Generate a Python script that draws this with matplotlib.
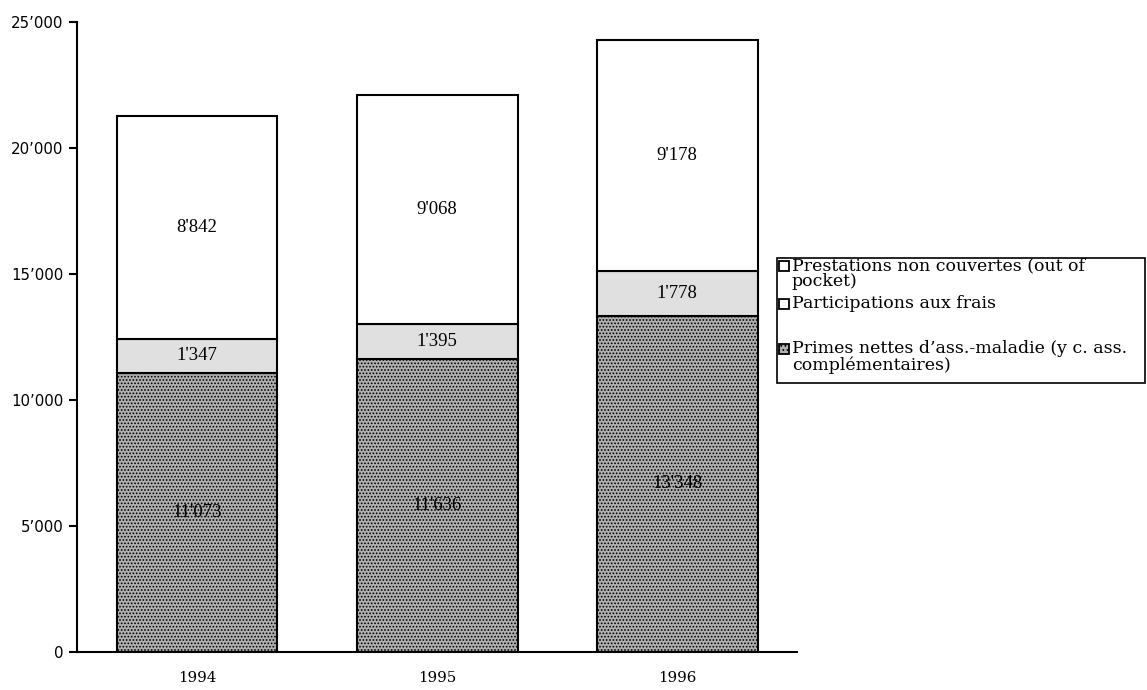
import matplotlib.pyplot as plt
import matplotlib.patches as mpatches
import numpy as np

years = ['1994', '1995', '1996']
primes = [11073, 11636, 13348]
participations = [1347, 1395, 1778]
prestations = [8842, 9068, 9178]
yticks = [0, 5000, 10000, 15000, 20000, 25000]
legend_labels = ['Prestations non couvertes (out of\npocket)',
                 'Participations aux frais',
                 "Primes nettes d\u2019ass.-maladie (y c. ass.\ncompl\u00e9mentaires)"]

def fmt(v):
    return "{:,}".format(v).replace(',', "'")

plt.rcParams['hatch.color'] = '#7a7a7a'
plt.rcParams['hatch.linewidth'] = 0.8
times = 'Liberation Serif'
pal = 'DejaVu Serif'
fig = plt.figure(figsize=(11.47, 6.9), dpi=100)
ax = fig.add_axes([0.0671, 0.0551, 0.628, 0.913])

x = np.arange(len(years))
w = 0.67
segs = [(primes, '#b0b0b0', '.....'), (participations, '#e0e0e0', None),
        (prestations, 'white', None)]
bottom = np.zeros(len(years))
for vals, col, hat in segs:
    ax.bar(x, vals, w, bottom=bottom, color=col, edgecolor='black',
           linewidth=1.5, hatch=hat)
    for xi, b, v in zip(x, bottom, vals):
        ax.text(xi, b + v / 2, fmt(v), ha='center', va='center',
                family=times, fontsize=13.5)
    bottom += np.array(vals)

ax.set_xlim(-0.5, 2.5)
ax.set_ylim(0, 25000)
ax.set_xticks(x)
ax.set_xticklabels(years, family=pal, fontsize=10.8)
ax.tick_params(axis='x', length=0, pad=14)
ax.set_yticks(yticks)
ax.set_yticklabels([fmt(t).replace("'", '\u2019') for t in yticks],
                   family='DejaVu Sans', fontsize=10.8)
ax.tick_params(axis='y', direction='out', length=6, width=1.5, pad=4)
for s in ['top', 'right']:
    ax.spines[s].set_visible(False)
for s in ['left', 'bottom']:
    ax.spines[s].set_linewidth(1.5)

# legend drawn by hand to keep the original's layout
W, H = 1147, 690
def fx(px):
    return px / W
def fy(py):
    return 1 - py / H

fig.patches.append(mpatches.Rectangle((fx(777), fy(383)), fx(1145) - fx(777),
                                      fy(258) - fy(383), transform=fig.transFigure,
                                      facecolor='white', edgecolor='black', lw=1.2))
leg_y = [266, 304, 349]
leg_fc = ['white', 'white', '#b0b0b0']
leg_hatch = [None, None, '....']
for yy, lab, fc, hat in zip(leg_y, legend_labels, leg_fc, leg_hatch):
    fig.patches.append(mpatches.Rectangle((fx(779), fy(yy + 5)), fx(10), 10 / H,
                                          transform=fig.transFigure, facecolor=fc,
                                          edgecolor='black', lw=1.3, hatch=hat))
    fig.text(fx(792), fy(yy - 9), lab, family=pal, fontsize=12.5,
             va='top', ha='left', linespacing=0.95)

fig.savefig('out.png', dpi=100)
